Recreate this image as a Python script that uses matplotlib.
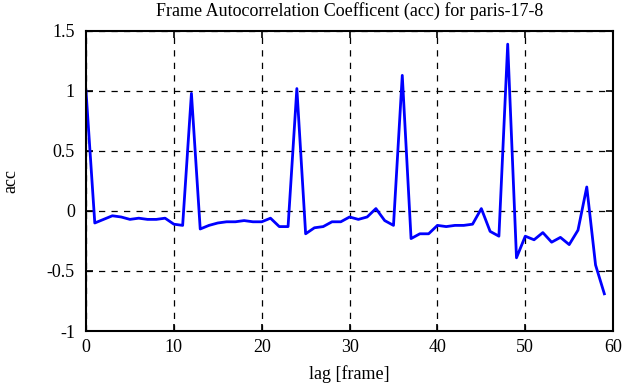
import matplotlib
matplotlib.use("Agg")
import matplotlib.pyplot as plt

lags = list(range(60))
acc = [1.00, -0.10, -0.07, -0.04, -0.05, -0.07, -0.06, -0.07, -0.07, -0.06,
       -0.11, -0.12, 0.98, -0.15, -0.12, -0.10, -0.09, -0.09, -0.08, -0.09,
       -0.09, -0.06, -0.13, -0.13, 1.02, -0.19, -0.14, -0.13, -0.09, -0.09,
       -0.05, -0.07, -0.05, 0.02, -0.08, -0.12, 1.13, -0.23, -0.19, -0.19,
       -0.12, -0.13, -0.12, -0.12, -0.11, 0.02, -0.17, -0.21, 1.39, -0.39,
       -0.21, -0.24, -0.18, -0.26, -0.22, -0.28, -0.16, 0.20, -0.45, -0.69]
xticks = [0, 10, 20, 30, 40, 50, 60]
yticks = [-1, -0.5, 0, 0.5, 1, 1.5]
ytick_labels = ["-1", "-0.5", "0", "0.5", "1", "1.5"]

plt.rcParams['font.family'] = ['Liberation Serif', 'DejaVu Serif']
plt.rcParams['font.size'] = 13

fig = plt.figure(figsize=(6.25, 3.87), dpi=100)
ax = fig.add_axes([0.1376, 0.1447, 0.8434, 0.7753])
ax.plot(lags, acc, color=(0, 0, 1), linewidth=2)

ax.set_xlim(0, 60)
ax.set_ylim(-1, 1.5)
ax.set_xticks(xticks)
ax.set_yticks(yticks)
ax.set_yticklabels(ytick_labels)
ax.tick_params(direction='in', top=True, right=True, length=5, width=1.2, labelsize=13)
ax.tick_params(axis='y', pad=8)
ax.tick_params(axis='x', pad=6)
for s in ax.spines.values():
    s.set_linewidth(1.5)
ax.grid(True, color='black', linestyle=(0, (5, 5)), linewidth=0.9)

ax.set_xlabel("lag [frame]", fontsize=13, labelpad=6)
ax.set_ylabel("acc", fontsize=13, labelpad=20)
ax.set_title("Frame Autocorrelation Coefficent (acc) for paris-17-8", fontsize=13, pad=11)

fig.savefig("out.png", dpi=100)
